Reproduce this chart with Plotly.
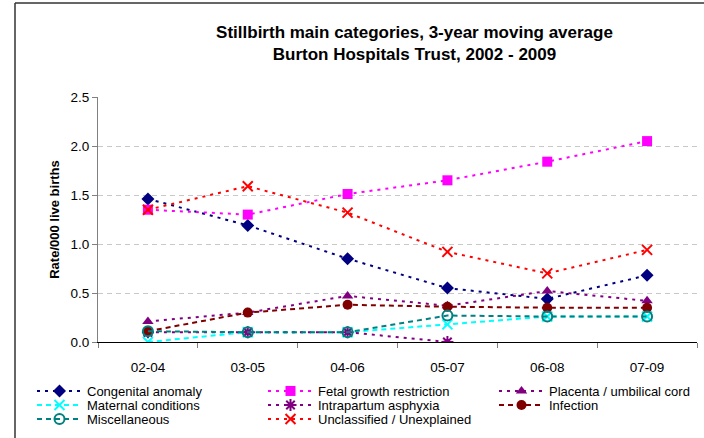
import plotly.graph_objects as go

periods = ["02-04", "03-05", "04-06", "05-07", "06-08", "07-09"]

congenital = [1.46, 1.19, 0.85, 0.55, 0.44, 0.68]
fetal = [1.35, 1.30, 1.51, 1.65, 1.84, 2.05]
placenta = [0.21, 0.30, 0.47, 0.37, 0.52, 0.42]
maternal = [0.00, 0.10, 0.10, 0.18, 0.26, 0.26]
intrapartum = [0.10, 0.10, 0.10, 0.00, None, None]
infection = [0.11, 0.30, 0.38, 0.36, 0.35, 0.35]
misc = [0.11, 0.10, 0.10, 0.27, 0.26, 0.26]
unclassified = [1.35, 1.59, 1.32, 0.92, 0.70, 0.94]

FONT = "Liberation Sans, Arial, sans-serif"
DOT = "3px,5px"
DASH = "5px,4px"

# (name, values, color, symbol, dash, legend, legendwidth)
series = [
    ("Congenital anomaly", congenital, "#000080", "diamond", DOT, "legend", 171),
    ("Fetal growth restriction", fetal, "#FF00FF", "square", DOT, "legend", 171),
    ("Placenta / umbilical cord", placenta, "#800080", "triangle-up", DOT, "legend", None),
    ("Maternal conditions", maternal, "#00FFFF", "x-thin", DASH, "legend2", 171),
    ("Intrapartum asphyxia", intrapartum, "#800080", "asterisk", DOT, "legend2", 171),
    ("Infection", infection, "#800000", "circle", DASH, "legend2", None),
    ("Miscellaneous", misc, "#008080", "circle-open", DASH, "legend3", 171),
    ("Unclassified / Unexplained", unclassified, "#FF0000", "x-thin", DOT, "legend3", None),
]

fig = go.Figure()
for name, vals, col, sym, dash, leg, lw in series:
    thin = sym in ("x-thin", "asterisk", "circle-open")
    marker = dict(symbol=sym, size=10, color=col,
                  line=dict(width=2 if thin else 0, color=col))
    kw = dict(legendwidth=lw) if lw else {}
    fig.add_trace(go.Scatter(
        x=periods, y=vals, name=name, mode="lines+markers",
        line=dict(color=col, width=2, dash=dash),
        marker=marker, legend=leg, connectgaps=False, **kw))

W, H = 704, 438
ml, mr, mt, mb = 98, 7, 97, 96
pw, ph = W - ml - mr, H - mt - mb

def px_x(x):
    return (x - ml) / pw

def px_y(y):
    return (H - mb - y) / ph

leg_common = dict(orientation="h", xanchor="left", yanchor="middle",
                  font=dict(family=FONT, size=13, color="#000000"),
                  itemwidth=45, bgcolor="rgba(0,0,0,0)", traceorder="normal")

LX = 32
frame = dict(color="#333333", width=1.5)
fig.update_layout(
    width=W, height=H,
    margin=dict(l=ml, r=mr, t=mt, b=mb, autoexpand=False),
    paper_bgcolor="white", plot_bgcolor="white",
    font=dict(family=FONT, size=13, color="#000000"),
    title=dict(text="Stillbirth main categories, 3-year moving average<br>Burton Hospitals Trust, 2002 - 2009",
               x=414.5 / W, xanchor="center", xref="container",
               y=1 - 38 / H, yanchor="top", yref="container",
               font=dict(family=FONT, size=17, color="#000000", weight="bold")),
    legend=dict(x=px_x(LX), y=px_y(391), **leg_common),
    legend2=dict(x=px_x(LX), y=px_y(405), **leg_common),
    legend3=dict(x=px_x(LX), y=px_y(419), **leg_common),
    xaxis=dict(type="category", range=[-0.5, 5.5], tickson="boundaries",
               ticks="outside", ticklen=5, tickcolor="#808080",
               showline=True, linecolor="#000000", linewidth=1,
               showgrid=False, zeroline=False, automargin=False,
               ticklabelstandoff=13,
               tickfont=dict(family=FONT, size=13.5, color="#000000")),
    yaxis=dict(range=[0, 2.5], dtick=0.5, tickformat=".1f",
               ticks="outside", ticklen=5, tickcolor="#808080",
               showline=True, linecolor="#808080", linewidth=1,
               showgrid=True, gridcolor="#C8C8C8", griddash="5px,4px", gridwidth=1,
               zeroline=False, automargin=False,
               tickfont=dict(family=FONT, size=13.5, color="#000000"),
               title=dict(text="Rate/000 live births", standoff=7,
                          font=dict(family=FONT, size=13, color="#000000", weight="bold"))),
    shapes=[
        dict(type="line", xref="paper", yref="paper",
             x0=px_x(15), x1=px_x(15), y0=px_y(H), y1=px_y(3), line=frame, layer="above"),
        dict(type="line", xref="paper", yref="paper",
             x0=px_x(15), x1=px_x(W), y0=px_y(3), y1=px_y(3), line=frame, layer="above"),
    ],
)

fig.write_html("out.html", config={"displayModeBar": False},
               post_script="document.body.style.margin='0';")
